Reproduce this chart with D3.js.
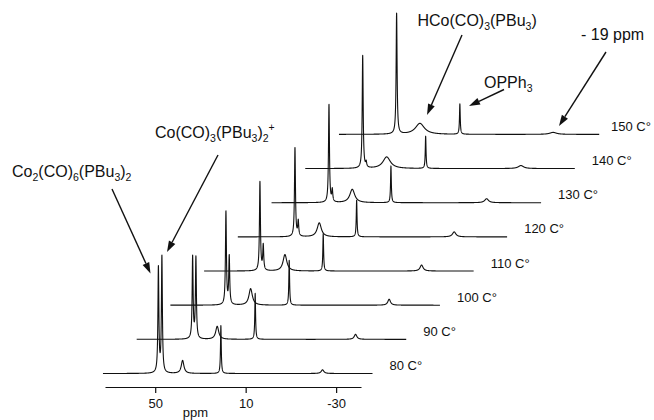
<!DOCTYPE html>
<html>
<head>
<meta charset="utf-8">
<script src="https://cdn.jsdelivr.net/npm/d3@7"></script>
<style>
  body { margin: 0; background: #fff; }
  svg { display: block; font-family: "Liberation Sans", Arial, sans-serif; }
</style>
</head>
<body>
<div id="container"></div>
<script>
/* CONSTANTS AND GLOBALS */
const width = 654,
  height = 420;

/* DATA */
// temperatures of the stacked spectra, bottom to top
const temps = [80, 90, 100, 110, 120, 130, 140, 150];
// Co2(CO)6(PBu3)2
const dimerPpm = [48.59, 48.36, 48.54, 48.41, 47.83, 47.70, 47.70, 47.61];
const dimerInt = [105, 82, 93, 89, 89, 98, 113, 121];
// Co(CO)3(PBu3)2+
const cationPpm = [47.04, 46.91, 47.08, 46.95, 46.38, 46.24, 46.15, 46.10];
const cationInt = [116, 81, 48, 25, 15, 12, 5, 0];
// HCo(CO)3(PBu3), broad
const hydridePpm = [37.89, 37.49, 37.62, 37.36, 37.09, 37.40, 37.09, 37.31];
const hydrideInt = [13, 13, 16.5, 16.4, 14, 13.4, 11.6, 11];
const hydrideWidth = [0.7, 0.8, 0.9, 1.0, 1.1, 1.3, 2.0, 2.4];
// OPPh3
const opph3Ppm = [20.96, 20.70, 20.56, 20.43, 20.56, 20.30, 19.86, 19.64];
const opph3Int = [48, 46, 45, 37.4, 36.7, 36.7, 32.3, 30.3];
// small signal near -19 ppm
const highPpm = [-23.99, -23.68, -23.63, -23.06, -22.57, -22.00, -22.27, -21.60];
const highInt = [3.7, 5, 6, 6, 5, 4, 3, 2];
const highWidth = [0.7, 0.7, 0.7, 0.8, 0.9, 1.0, 1.4, 1.8];
// recorded window of each spectrum
const ppmStart = 73.1;
const ppmEnd = [-46.1, -46.1, -46.1, -46.1, -46.0, -46.1, -46.1, -42.0];
// axis
const tickValues = [50, 10, -30];
const axisDomain = [72.2, -41.0];

/* SCALES */
const xScale = d3.scaleLinear().domain(axisDomain).range([105, 361]);
const dxScale = d3.scaleLinear().domain([80, 150]).range([0, 236]);
const baseScale = d3.scaleLinear().domain([80, 150]).range([373.5, 134.4]);
const yScale = d3.scaleLinear().domain([0, 120]).range([0, 120]);

const svg = d3.select('#container')
  .append('svg')
  .attr('width', width)
  .attr('height', height);

// build spectra from the peak lists (lorentzian lines)
const spectra = temps.map((t, i) => {
  const peaks = [
    [dimerPpm[i], dimerInt[i], 0.25],
    [cationPpm[i], cationInt[i], 0.25],
    [hydridePpm[i], hydrideInt[i], hydrideWidth[i]],
    [opph3Ppm[i], opph3Int[i], 0.2],
    [highPpm[i], highInt[i], highWidth[i]]
  ];
  const pts = [];
  for (let p = ppmStart; p >= ppmEnd[i]; p -= 0.03) {
    let v = 0;
    peaks.forEach(([c, h, w]) => { v += h / (1 + ((p - c) / w) ** 2); });
    pts.push([p, v]);
  }
  return {temp: t, points: pts, end: ppmEnd[i]};
});

const line = d3.line();

svg.selectAll('path.spec')
  .data(spectra)
  .join('path')
  .attr('class', 'spec')
  .attr('fill', 'none')
  .attr('stroke', '#111')
  .attr('stroke-width', 1.1)
  .attr('stroke-linejoin', 'round')
  .attr('d', d => line(d.points.map(([p, v]) =>
    [xScale(p) + dxScale(d.temp), baseScale(d.temp) - yScale(v)])));

// temperature labels (kept inside the frame on the right)
svg.selectAll('text.temp')
  .data(spectra)
  .join('text')
  .attr('class', 'temp')
  .attr('x', d => Math.min(xScale(d.end) + dxScale(d.temp) + 17, width - 43))
  .attr('y', d => baseScale(d.temp) - 3.5)
  .attr('font-size', 13)
  .attr('fill', '#111')
  .text(d => d.temp + ' C°');

/* AXIS */
const axis = svg.append('g')
  .attr('transform', 'translate(0,387)')
  .call(d3.axisBottom(xScale).tickValues(tickValues).tickFormat(d => String(d))
    .tickSize(6).tickSizeOuter(0).tickPadding(6));
axis.select('.domain').attr('stroke', '#111').attr('stroke-width', 1.2);
axis.selectAll('.tick line').attr('stroke', '#111').attr('stroke-width', 1.2);
axis.selectAll('.tick text').attr('font-size', 13).attr('fill', '#111')
  .attr('font-family', '"Liberation Sans", Arial, sans-serif');

svg.append('text')
  .attr('x', 195.5).attr('y', 417)
  .attr('text-anchor', 'middle')
  .attr('font-size', 13)
  .attr('fill', '#111')
  .text('ppm');

/* ANNOTATIONS */
// label pieces: [text, 'sub' | 'sup' | undefined]
function chemLabel(x, y, parts) {
  const t = svg.append('text').attr('x', x).attr('y', y)
    .attr('font-size', 16).attr('fill', '#111');
  let shift = 0;
  parts.forEach(([s, kind]) => {
    const target = kind === 'sub' ? 4 : kind === 'sup' ? -7 : 0;
    t.append('tspan')
      .attr('dy', target - shift)
      .attr('font-size', kind ? 10.5 : 16)
      .text(s);
    shift = target;
  });
}

chemLabel(12, 176.7, [['Co'], ['2', 'sub'], ['(CO)'], ['6', 'sub'], ['(PBu'], ['3', 'sub'], [')'], ['2', 'sub']]);
chemLabel(155, 137.7, [['Co(CO)'], ['3', 'sub'], ['(PBu'], ['3', 'sub'], [')'], ['2', 'sub'], ['+', 'sup']]);
chemLabel(417.5, 26, [['HCo(CO)'], ['3', 'sub'], ['(PBu'], ['3', 'sub'], [')']]);
chemLabel(484, 87.5, [['OPPh'], ['3', 'sub']]);
chemLabel(581, 39.5, [['- 19 ppm']]);

const arrows = [
  [[112, 189], [150.5, 273.5]],
  [[218, 155], [167, 252]],
  [[462, 35], [427, 115]],
  [[504, 89.5], [469, 106]],
  [[606, 52], [559, 126]]
];

arrows.forEach(([a, b]) => {
  const ang = Math.atan2(b[1] - a[1], b[0] - a[0]);
  const len = 11, hw = 3.6;
  const bx = b[0] - len * Math.cos(ang), by = b[1] - len * Math.sin(ang);
  svg.append('line')
    .attr('x1', a[0]).attr('y1', a[1]).attr('x2', bx).attr('y2', by)
    .attr('stroke', '#111').attr('stroke-width', 1.4);
  svg.append('path')
    .attr('d', `M${b[0]},${b[1]}L${bx + hw * Math.sin(ang)},${by - hw * Math.cos(ang)}L${bx - hw * Math.sin(ang)},${by + hw * Math.cos(ang)}Z`)
    .attr('fill', '#111');
});
</script>
</body>
</html>
